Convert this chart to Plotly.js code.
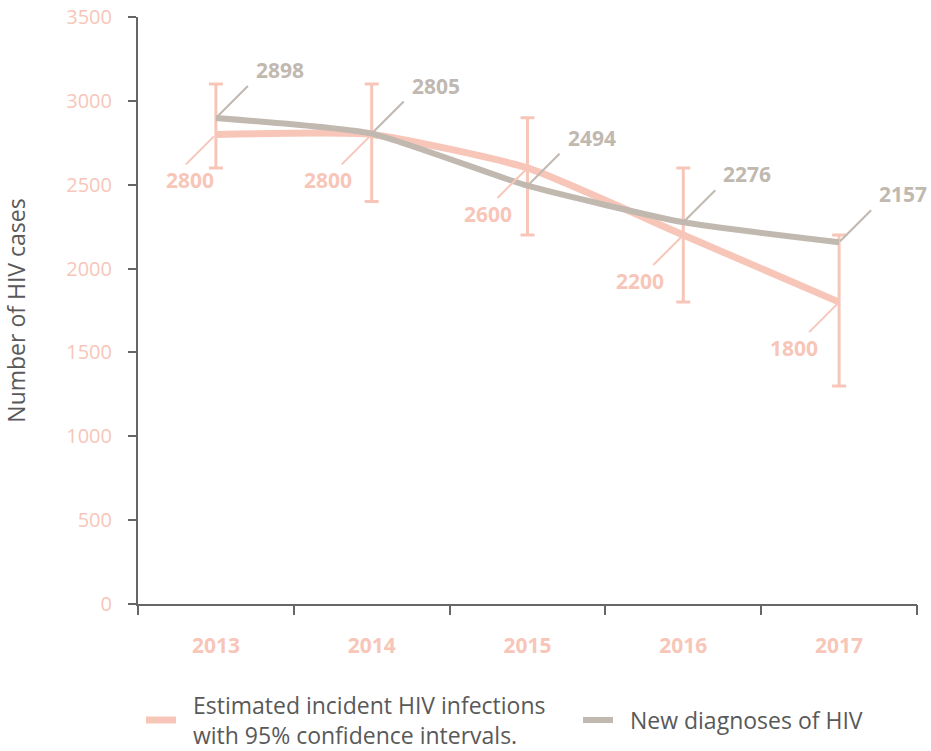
<!DOCTYPE html>
<html>
<head>
<meta charset="utf-8">
<script src="https://cdn.plot.ly/plotly-3.0.1.min.js"></script>
<style>html,body{margin:0;padding:0;background:#fff;}#chart{width:931px;height:751px;}</style>
</head>
<body>
<div id="chart"></div>
<script>
const years = ['2013', '2014', '2015', '2016', '2017'];
const estimated = [2800, 2800, 2600, 2200, 1800];
const ciUpper = [3100, 3100, 2900, 2600, 2200];
const ciLower = [2600, 2400, 2200, 1800, 1300];
const diagnoses = [2898, 2805, 2494, 2276, 2157];
const yTicks = [0, 500, 1000, 1500, 2000, 2500, 3000, 3500];

const PINK = '#f7c6b9';
const GREY = '#c1b8b0';
const TEXT = '#595959';
const AXIS = '#666666';
const FONT = '"Open Sans", Lato, sans-serif';
const PAD = '&nbsp;&nbsp;';

const idx = years.map((_, i) => i);

const traces = [
  {
    x: idx, y: estimated, type: 'scatter', mode: 'lines',
    name: PAD + 'Estimated incident HIV infections<br>' + PAD + 'with 95% confidence intervals.',
    legend: 'legend',
    line: {color: PINK, width: 7, shape: 'spline', smoothing: 0.5},
    error_y: {
      type: 'data', symmetric: false,
      array: ciUpper.map((u, i) => u - estimated[i]),
      arrayminus: ciLower.map((l, i) => estimated[i] - l),
      color: PINK, thickness: 3, width: 7
    },
    hoverinfo: 'skip'
  },
  {
    x: idx, y: diagnoses, type: 'scatter', mode: 'lines',
    name: PAD + 'New diagnoses of HIV',
    legend: 'legend2',
    line: {color: GREY, width: 6, shape: 'spline', smoothing: 0.5},
    hoverinfo: 'skip'
  }
];

const shapes = [];
const annotations = [];
const pinkDx = [-26, -44, -40, -43, -45];
idx.forEach((i) => {
  shapes.push({type: 'line', xref: 'x', yref: 'y', xsizemode: 'pixel', ysizemode: 'pixel',
    xanchor: i, yanchor: diagnoses[i], x0: 1, x1: 32, y0: 1, y1: 32,
    line: {color: GREY, width: 2}});
  shapes.push({type: 'line', xref: 'x', yref: 'y', xsizemode: 'pixel', ysizemode: 'pixel',
    xanchor: i, yanchor: estimated[i], x0: -2, x1: -30, y0: -2, y1: -30,
    line: {color: PINK, width: 2}});
  annotations.push({x: i, y: diagnoses[i], xref: 'x', yref: 'y', text: String(diagnoses[i]),
    showarrow: false, xshift: 64, yshift: 48,
    font: {family: FONT, size: 21, color: GREY, weight: 'bold'}});
  annotations.push({x: i, y: estimated[i], xref: 'x', yref: 'y', text: String(estimated[i]),
    showarrow: false, xshift: pinkDx[i], yshift: -46,
    font: {family: FONT, size: 21, color: PINK, weight: 'bold'}});
});

const legendBase = {
  orientation: 'h', xref: 'container', yref: 'container', xanchor: 'left', yanchor: 'middle',
  y: 1 - 720 / 751, valign: 'middle', borderwidth: 0, bgcolor: 'rgba(0,0,0,0)',
  font: {family: FONT, size: 23, color: TEXT}
};

const layout = {
  width: 931, height: 751,
  margin: {l: 138, r: 14, t: 17, b: 147, autoexpand: false},
  paper_bgcolor: '#fff', plot_bgcolor: '#fff',
  showlegend: true,
  legend: Object.assign({}, legendBase, {x: 141 / 931}),
  legend2: Object.assign({}, legendBase, {x: 578 / 931}),
  xaxis: {
    type: 'linear', range: [-0.5, 4.5],
    tickvals: idx, ticktext: years,
    showline: true, linecolor: AXIS, linewidth: 2,
    ticks: '', showgrid: false, zeroline: false, ticklabelstandoff: 22,
    tickfont: {family: FONT, size: 21, color: PINK, weight: 'bold'}
  },
  xaxis2: {
    overlaying: 'x', anchor: 'y', side: 'bottom', range: [-0.5, 4.5],
    tickvals: [-0.5, 0.5, 1.5, 2.5, 3.5, 4.5], showticklabels: false,
    ticks: 'outside', ticklen: 10, tickwidth: 2, tickcolor: AXIS,
    showgrid: false, zeroline: false, showline: false
  },
  yaxis: {
    range: [0, 3500], tickvals: yTicks, ticktext: yTicks.map(String),
    showline: true, linecolor: AXIS, linewidth: 2,
    ticks: 'outside', ticklen: 8, tickwidth: 2, tickcolor: AXIS,
    showgrid: false, zeroline: false, ticklabelstandoff: 12,
    tickfont: {family: FONT, size: 20, color: PINK},
    title: {text: 'Number of HIV cases', standoff: 36,
      font: {family: FONT, size: 23, color: TEXT}}
  },
  shapes: shapes,
  annotations: annotations
};

// invisible trace to activate the tick-only axis
traces.push({x: [-0.5], y: [0], xaxis: 'x2', yaxis: 'y', type: 'scatter', mode: 'none', showlegend: false, hoverinfo: 'skip'});

Plotly.newPlot('chart', traces, layout, {displayModeBar: false, staticPlot: true});
</script>
</body>
</html>
